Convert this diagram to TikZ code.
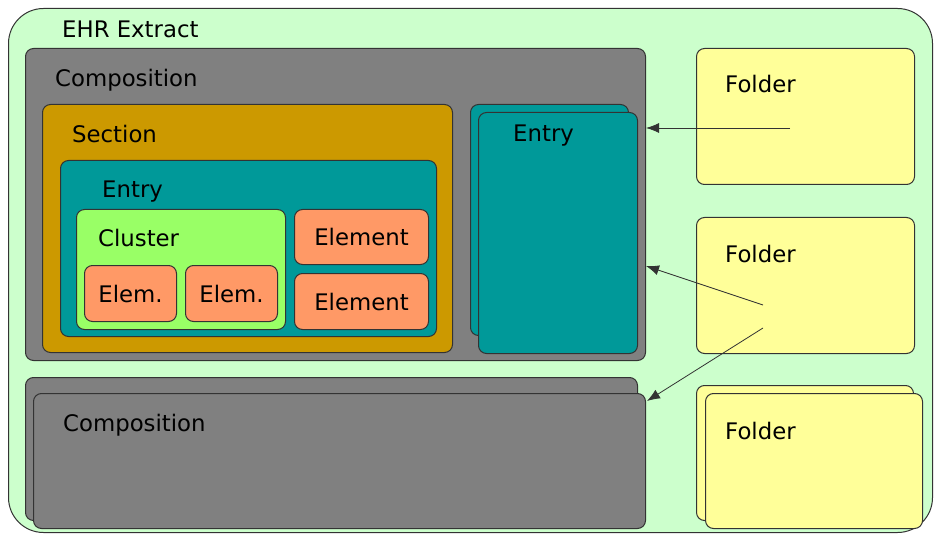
\documentclass[tikz,border=0pt]{standalone}
\usepackage{fontspec}
\setmainfont{DejaVu Sans}
\usetikzlibrary{positioning,arrows.meta}

\definecolor{extractfill}{HTML}{CCFFCC}
\definecolor{compfill}{HTML}{808080}
\definecolor{sectionfill}{HTML}{CC9900}
\definecolor{entryfill}{HTML}{009999}
\definecolor{clusterfill}{HTML}{99FF66}
\definecolor{elemfill}{HTML}{FF9966}
\definecolor{folderfill}{HTML}{FFFF99}

\begin{document}
\begin{tikzpicture}[x=1pt,y=-1pt,>={Latex[length=13pt,width=10pt]},
    box/.style={draw=black!80,line width=1pt,rounded corners=8pt,anchor=north west,
                inner sep=0pt,font=\fontsize{22.8}{26}\selectfont},
    lbl/.style={anchor=base west,inner sep=0pt,font=\fontsize{22.8}{26}\selectfont},
    link/.style={->,draw=black!80,line width=0.8pt}]
    % \draw[help lines] (0,0) grid[step=50] (944,537);
    \useasboundingbox (0,0) rectangle (944,537);

    \node[box,rounded corners=35pt,fill=extractfill,minimum width=924pt,minimum height=524pt] (ehr) at (8,8) {};
    \node[lbl] (ehrlbl) at (62,38) {EHR Extract};

    % first composition
    \node[box,fill=compfill,minimum width=620pt,minimum height=312pt] (comp1) at (25,48) {};
    \node[lbl] (comp1lbl) at (55,87) {Composition};
    \node[box,fill=sectionfill,minimum width=410pt,minimum height=248pt] (sect) at (42,104) {};
    \node[lbl] (sectlbl) at (72,143) {Section};
    \node[box,fill=entryfill,minimum width=376pt,minimum height=176pt] (entry) at (60,160) {};
    \node[lbl] (entrylbl) at (102,198) {Entry};
    \node[box,fill=clusterfill,minimum width=209pt,minimum height=120pt] (clust) at (76,209) {};
    \node[lbl] (clustlbl) at (98,247) {Cluster};
    \node[box,fill=elemfill,minimum width=92pt,minimum height=56pt] (elem_a) at (84,265) {Elem.};
    \node[box,fill=elemfill,minimum width=92pt,minimum height=56pt] (elem_b) at (185,265) {Elem.};
    \node[box,fill=elemfill,minimum width=134pt,minimum height=55pt] (element_a) at (294,209) {Element};
    \node[box,fill=elemfill,minimum width=134pt,minimum height=56pt] (element_b) at (294,273) {Element};

    % stacked entries
    \node[box,fill=entryfill,minimum width=158pt,minimum height=231pt] (entryback) at (470,104) {};
    \node[box,fill=entryfill,minimum width=159pt,minimum height=241pt] (entryfront) at (478,112) {};
    \node[lbl] (entryfrontlbl) at (513,142) {Entry};

    % stacked compositions
    \node[box,fill=compfill,minimum width=612pt,minimum height=143pt] (comp2back) at (25,377) {};
    \node[box,fill=compfill,minimum width=612pt,minimum height=135pt] (comp2) at (33,393) {};
    \node[lbl] (comp2lbl) at (63,431) {Composition};

    % folders
    \node[box,fill=folderfill,minimum width=218pt,minimum height=136pt] (fold1) at (696,48) {};
    \node[lbl] (fold1lbl) at (725,93) {Folder};
    \node[box,fill=folderfill,minimum width=218pt,minimum height=136pt] (fold2) at (696,217) {};
    \node[lbl] (fold2lbl) at (725,262) {Folder};
    \node[box,fill=folderfill,minimum width=217pt,minimum height=135pt] (fold3back) at (696,385) {};
    \node[box,fill=folderfill,minimum width=217pt,minimum height=135pt] (fold3) at (705,393) {};
    \node[lbl] (fold3lbl) at (725,439) {Folder};

    \coordinate (f1src) at (790,128);
    \coordinate (f2src) at (763,305);
    \coordinate (f2srcb) at (763,328);
    \coordinate (c1low) at (646,266);
    \coordinate (c2top) at (647,401);

    \draw[link] (f1src) -- (f1src -| comp1.east);
    \draw[link] (f2src) -- (c1low);
    \draw[link] (f2srcb) -- (c2top);
\end{tikzpicture}
\end{document}
